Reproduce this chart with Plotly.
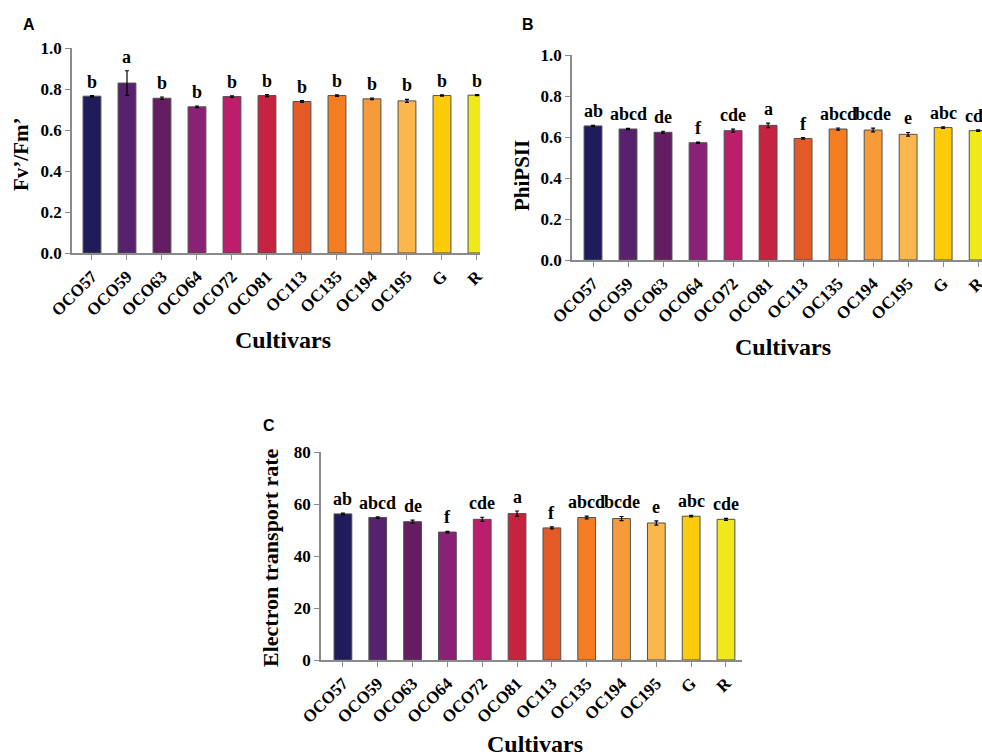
import plotly.graph_objects as go

cultivars = ["OCO57", "OCO59", "OCO63", "OCO64", "OCO72", "OCO81",
             "OC113", "OC135", "OC194", "OC195", "G", "R"]
colors = ["#1e1c5a", "#56226e", "#641c62", "#8b2175", "#bb1e6a", "#c52340",
          "#e35a26", "#f47d22", "#f79a3a", "#fbb64c", "#fecb0a", "#f0e81a"]

fvfm = [0.765, 0.829, 0.755, 0.713, 0.763, 0.768, 0.739, 0.768, 0.752, 0.742, 0.768, 0.770]
fvfm_err = [0.003, 0.06, 0.006, 0.004, 0.004, 0.005, 0.004, 0.004, 0.004, 0.007, 0.003, 0.003]
fvfm_letters = ["b", "a", "b", "b", "b", "b", "b", "b", "b", "b", "b", "b"]

phipsii = [0.654, 0.639, 0.623, 0.572, 0.631, 0.657, 0.593, 0.639, 0.634, 0.613, 0.646, 0.631]
phipsii_err = [0.003, 0.003, 0.005, 0.003, 0.007, 0.011, 0.004, 0.005, 0.009, 0.009, 0.004, 0.004]
phipsii_letters = ["ab", "abcd", "de", "f", "cde", "a", "f", "abcd", "bcde", "e", "abc", "cde"]

etr = [56.2, 54.8, 53.2, 49.2, 54.1, 56.3, 50.8, 54.8, 54.4, 52.7, 55.3, 54.1]
etr_err = [0.3, 0.3, 0.6, 0.3, 0.8, 1.0, 0.4, 0.5, 0.8, 0.8, 0.3, 0.4]
etr_letters = ["ab", "abcd", "de", "f", "cde", "a", "f", "abcd", "bcde", "e", "abc", "cde"]

W, H = 982, 756
SERIF = "Liberation Serif"
SANS = "Liberation Sans"
AXC = "#8a8a8a"

def px(x):
    return x / W

def py(y):
    return 1 - y / H

fig = go.Figure()
xs = list(range(len(cultivars)))

panels = [
    (fvfm, fvfm_err, fvfm_letters, "x", "y"),
    (phipsii, phipsii_err, phipsii_letters, "x2", "y2"),
    (etr, etr_err, etr_letters, "x3", "y3"),
]
for vals, errs, letters, xa, ya in panels:
    fig.add_trace(go.Bar(
        x=xs, y=vals, width=0.51, xaxis=xa, yaxis=ya,
        marker=dict(color=colors, line=dict(color="#505050", width=1)),
        error_y=dict(type="data", array=errs, visible=True, color="black",
                     thickness=1.2, width=2),
        showlegend=False,
    ))
    for i, (v, e, t) in enumerate(zip(vals, errs, letters)):
        fig.add_annotation(x=i, y=v + e, xref=xa, yref=ya, text=t,
                           showarrow=False, yanchor="bottom", yshift=2,
                           font=dict(family=SERIF, size=18, color="black",
                                     weight="bold"))

TICKFONT = dict(family=SERIF, size=17, color="black", weight="bold")

def xaxis_cfg(dom, rng):
    return dict(domain=dom, range=rng, tickmode="array", tickvals=xs,
                ticktext=cultivars, tickangle=-45, ticks="outside", ticklen=5,
                tickcolor=AXC, showline=True, linecolor=AXC, linewidth=1.5,
                showgrid=False, zeroline=False, tickfont=TICKFONT,
                automargin=False, ticklabeloverflow="allow")

def yaxis_cfg(dom, rng, dtick, fmt, anchor):
    return dict(domain=dom, range=rng, dtick=dtick, tickformat=fmt,
                ticks="outside", ticklen=5, tickcolor=AXC, showline=True,
                linecolor=AXC, linewidth=1.5, showgrid=False, zeroline=False,
                anchor=anchor, tickfont=TICKFONT, automargin=False,
                ticklabeloverflow="allow")

fig.update_layout(
    width=W, height=H, margin=dict(l=0, r=0, t=0, b=0),
    paper_bgcolor="white", plot_bgcolor="white",
    xaxis=dict(**xaxis_cfg([px(72), px(480)], [-0.571, 11.086]), anchor="y"),
    yaxis=yaxis_cfg([py(253), py(48)], [0, 1.0], 0.2, ".1f", "x"),
    xaxis2=dict(**xaxis_cfg([px(572), 1.0], [-0.6, 11.11]), anchor="y2"),
    yaxis2=yaxis_cfg([py(260), py(55)], [0, 1.0], 0.2, ".1f", "x2"),
    xaxis3=dict(**xaxis_cfg([px(321), px(742)], [-0.63, 11.46]), anchor="y3"),
    yaxis3=yaxis_cfg([py(660), py(452)], [0, 80], 20, "d", "x3"),
    bargap=0.4,
)

def paper_text(x, y, text, size, family, angle=0):
    fig.add_annotation(x=px(x), y=py(y), xref="paper", yref="paper", text=text,
                       showarrow=False, xanchor="center", yanchor="middle",
                       textangle=angle,
                       font=dict(family=family, size=size, color="black",
                                 weight="bold"))

# panel letters
paper_text(29, 25, "A", 16, SANS)
paper_text(528, 25, "B", 16, SANS)
paper_text(269, 425, "C", 16, SANS)

# axis titles
paper_text(21, 155, "Fv’/Fm’", 21, SERIF, -90)
paper_text(522, 176, "PhiPSII", 21, SERIF, -90)
paper_text(270, 558, "Electron transport rate", 22, SERIF, -90)
paper_text(283, 340, "Cultivars", 24, SERIF)
paper_text(783, 347, "Cultivars", 24, SERIF)
paper_text(535, 744, "Cultivars", 24, SERIF)

fig.write_html("out.html")
